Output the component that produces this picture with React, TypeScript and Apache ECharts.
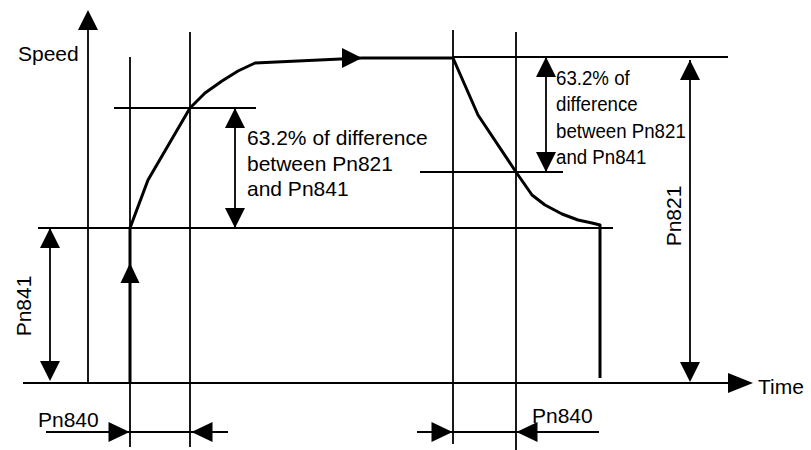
import React, { useEffect, useRef } from "react";
import * as echarts from "echarts";

const FONT_FAMILY = '"Liberation Sans", Arial, Helvetica, sans-serif';

// Speed curve: acceleration part (time units from origin, speed units from zero)
const accelTime = [42, 42, 60, 102, 117, 134, 150, 167, 274, 365];
const accelSpeed = [0, 155, 203, 275, 290, 302, 312, 320, 325, 325];

// Speed curve: deceleration part
const decelTime = [365, 390, 428, 444, 457, 474, 490, 504, 512, 512];
const decelSpeed = [325, 268, 211, 188, 178, 169, 163, 160, 158, 5];

// Key speed levels: Pn841, 63.2% (accel), 63.2% (decel), Pn821
const levelSpeed = [155, 275, 211, 326];
// Key instants: start, 63.2% reached (accel), decel start, 63.2% reached (decel)
const markTime = [42, 102, 365, 428];

// Text labels
const labelSpeed = "Speed";
const labelTime = "Time";
const labelPn821 = "Pn821";
const labelPn841 = "Pn841";
const labelPn840 = "Pn840";
const labelAccelNote = ["63.2% of difference", "between Pn821", "and Pn841"];
const labelDecelNote = ["63.2% of", "difference", "between Pn821", "and Pn841"];

export default function App() {
  const ref = useRef<HTMLDivElement>(null);

  useEffect(() => {
    if (!ref.current) return;
    const chart = echarts.init(ref.current, null, { renderer: "svg" });

    const [pn841, up632, down632, pn821] = levelSpeed;
    const [t0, t1, t2, t3] = markTime;
    const dimY = -49; // Pn840 dimension row

    // thin guide segments [from, to]
    const guides: number[][][] = [
      [[0, 0], [0, 355]], // speed axis
      [[-65, 0], [642, 0]], // time axis
      [[-50, pn841], [525, pn841]],
      [[t2, pn821], [640, pn821]],
      [[26, up632], [168, up632]],
      [[332, down632], [475, down632]],
      [[t0, pn821], [t0, -64]],
      [[t1, 351], [t1, -64]],
      [[t2, 353], [t2, -61]],
      [[t3, 351], [t3, -67]],
      [[-38, pn841], [-38, 4]],
      [[147, up632], [147, pn841]],
      [[458, pn821], [458, down632]],
      [[602, 323], [602, 3]],
      [[-42, dimY], [140, dimY]],
      [[329, dimY], [511, dimY]],
    ];

    // arrowheads: [x, y, rotateDeg, width, length]
    const heads: number[][] = [
      [0, 363, 0, 20, 20],
      [652.5, 0, -90, 20, 25],
      [-38, pn841 - 10, 0, 20, 20],
      [-38, 12, 180, 20, 20],
      [147, up632 - 10, 0, 20, 20],
      [147, pn841 + 10, 180, 20, 20],
      [458, pn821 - 10, 0, 20, 20],
      [458, down632 + 10, 180, 20, 20],
      [602, 313, 0, 20, 20],
      [602, 11, 180, 20, 20],
      [t0 - 11, dimY, -90, 20, 21],
      [t1 + 12, dimY, 90, 20, 21],
      [t2 - 11, dimY, -90, 20, 21],
      [t3 + 11, dimY, 90, 20, 21],
      [t0, 110, 0, 19, 20],
      [264, 325, -90, 20, 20],
    ];

    const font = `21px ${FONT_FAMILY}`;
    const txt = (
      text: string,
      x: number,
      y: number,
      extra: Record<string, unknown> = {},
      style: Record<string, unknown> = {}
    ) => ({
      type: "text",
      x,
      y,
      silent: true,
      ...extra,
      style: {
        text,
        font,
        fill: "#000",
        align: "left",
        textAlign: "left",
        verticalAlign: "middle",
        textVerticalAlign: "middle",
        ...style,
      },
    });

    chart.setOption({
      animation: false,
      backgroundColor: "#fff",
      grid: { left: 0, top: 0, right: 0, bottom: 0 },
      xAxis: { type: "value", min: -88, max: 723, show: false },
      yAxis: { type: "value", min: -67, max: 383, show: false },
      series: [
        {
          type: "lines",
          coordinateSystem: "cartesian2d",
          silent: true,
          z: 2,
          lineStyle: { color: "#000", width: 1.8, opacity: 1 },
          data: guides.map((g) => ({ coords: g })),
        },
        {
          type: "line",
          silent: true,
          z: 3,
          symbol: "none",
          showSymbol: false,
          lineStyle: { color: "#000", width: 3, join: "round" },
          data: accelTime.map((t, i) => [t, accelSpeed[i]]),
        },
        {
          type: "line",
          silent: true,
          z: 3,
          symbol: "none",
          showSymbol: false,
          lineStyle: { color: "#000", width: 3, join: "round" },
          data: decelTime.map((t, i) => [t, decelSpeed[i]]),
        },
        {
          type: "scatter",
          silent: true,
          z: 4,
          symbol: "triangle",
          itemStyle: { color: "#000", opacity: 1 },
          data: heads.map((h) => ({
            value: [h[0], h[1]],
            symbolRotate: h[2],
            symbolSize: [h[3], h[4]],
          })),
        },
      ],
      graphic: [
        txt(labelSpeed, 18, 53),
        txt(labelTime, 758, 386),
        txt(labelPn840, 38, 419.5),
        txt(labelPn840, 532, 415),
        txt(labelAccelNote.join("\n"), 247, 163, {}, { lineHeight: 25.5 }),
        txt(labelDecelNote.join("\n"), 556, 117.3, { scaleX: 0.89 }, { lineHeight: 26.5 }),
        txt(labelPn821, 673.5, 216, { rotation: Math.PI / 2 }, { align: "center", textAlign: "center" }),
        txt(labelPn841, 23.5, 306, { rotation: Math.PI / 2 }, { align: "center", textAlign: "center" }),
      ],
    });

    return () => chart.dispose();
  }, []);

  return (
    <div
      ref={ref}
      style={{ position: "absolute", left: 0, top: 0, width: 811, height: 450, background: "#fff" }}
    />
  );
}
